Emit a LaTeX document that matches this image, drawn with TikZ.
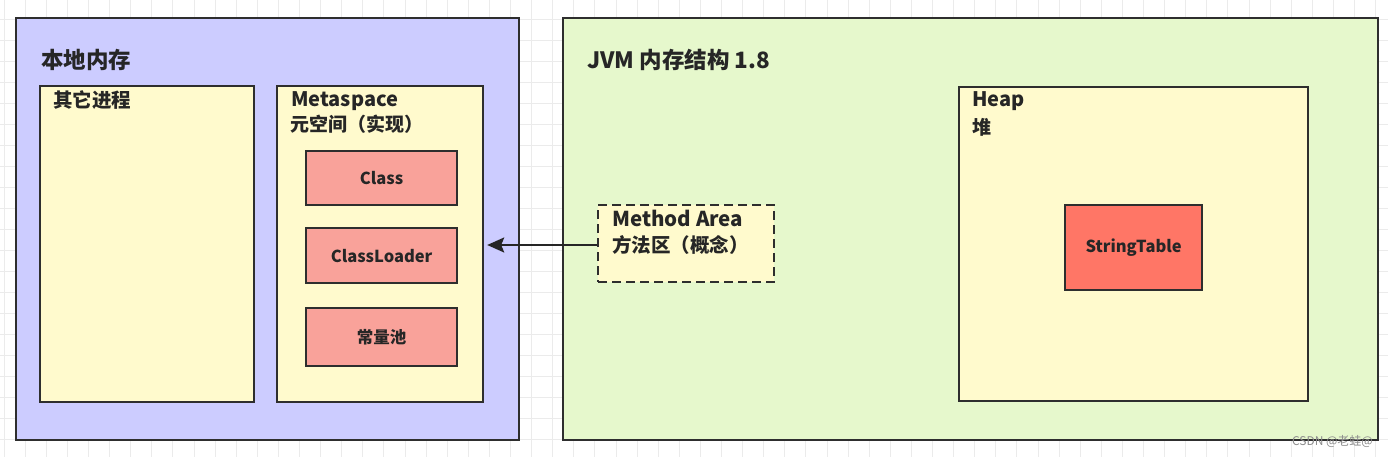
\documentclass[tikz,border=0pt]{standalone}
\usepackage{fontspec}
\setmainfont{Noto Sans CJK SC}
\usetikzlibrary{arrows.meta}
\definecolor{lav}{HTML}{CCCCFF}
\definecolor{grn}{HTML}{E6F8CC}
\definecolor{ylw}{HTML}{FFFACD}
\definecolor{salmon}{HTML}{F9A29A}
\definecolor{red2}{HTML}{FF7666}
\definecolor{edge}{HTML}{2E2E2E}
\definecolor{gridc}{HTML}{EBEBEB}
\tikzset{
  box/.style={draw=edge, line width=2.2pt, inner sep=0pt, anchor=north west},
  lbl/.style={inner sep=0pt, font=\bfseries, text=black!85},
  small/.style={lbl, font=\fontsize{16.5}{16.5}\selectfont\bfseries},
  gridline/.style={draw=gridc, line width=0.8pt},
  conn/.style={draw=black!85, line width=2pt, -{Stealth[length=17pt,width=15pt,inset=3pt]}},
}
\begin{document}
\begin{tikzpicture}[x=1pt,y=-1pt]
\useasboundingbox (0,0) rectangle (1388,457);
\fill[white] (0,0) rectangle (1388,457);
\foreach \k in {0,...,66} {\draw[gridline] (4+21.1*\k,0) -- (4+21.1*\k,457);}
\foreach \k in {0,...,21} {\draw[gridline] (0,19+21*\k) -- (1388,19+21*\k);}
% outer boxes
\node[box, fill=lav, minimum width=503pt, minimum height=422pt] (local) at (15,17) {};
\node[box, fill=grn, minimum width=815pt, minimum height=422pt] (jvm) at (562,17) {};
% left inner
\node[box, fill=ylw, minimum width=214pt, minimum height=316pt] (other) at (39,85) {};
\node[box, fill=ylw, minimum width=206pt, minimum height=316pt] (meta) at (276,85) {};
\node[box, fill=salmon, minimum width=151pt, minimum height=54pt] (cls) at (305,150) {};
\node[box, fill=salmon, minimum width=151pt, minimum height=55pt] (cl) at (305,227) {};
\node[box, fill=salmon, minimum width=151pt, minimum height=58pt] (pool) at (305,307) {};
% right inner
\node[box, fill=ylw, dashed, dash pattern=on 9pt off 5pt, minimum width=176pt, minimum height=77pt] (ma) at (597,204) {};
\node[box, fill=ylw, minimum width=349pt, minimum height=314pt] (heap) at (958,86) {};
\node[box, fill=red2, minimum width=137pt, minimum height=85pt] (st) at (1064,204) {};
% labels
\node[lbl, anchor=west, font=\fontsize{22.5}{22.5}\selectfont\bfseries] (tlocal) at (41,60) {本地内存};
\node[lbl, anchor=west, font=\fontsize{19.5}{19.5}\selectfont\bfseries] (tother) at (53,100) {其它进程};
\node[lbl, anchor=base west, font=\fontsize{20}{20}\selectfont\bfseries] (tmeta) at (291,107) {Metaspace};
\node[lbl, anchor=west, font=\fontsize{19}{19}\selectfont\bfseries] (tmeta2) at (290,124) {元空间（实现）};
\node[small] (tcls) at (cls.center) {Class};
\node[small] (tcl) at (cl.center) {ClassLoader};
\node[small] (tpool) at (pool.center) {常量池};
\node[lbl, anchor=west, font=\fontsize{22.5}{22.5}\selectfont\bfseries] (tjvm) at (587,60) {JVM 内存结构 1.8};
\node[lbl, anchor=base west, font=\fontsize{20.5}{20.5}\selectfont\bfseries] (tma) at (612,226) {Method Area};
\node[lbl, anchor=west, font=\fontsize{19.5}{19.5}\selectfont\bfseries] (tma2) at (612,245) {方法区（概念）};
\node[lbl, anchor=base west, font=\fontsize{20}{20}\selectfont\bfseries] (theap) at (972,107) {Heap};
\node[lbl, anchor=west, font=\fontsize{19}{19}\selectfont\bfseries] (theap2) at (972,127) {堆};
\node[small] (tst) at (st.center) {StringTable};
% connector
\draw[conn] (ma.west |- tma2.center) -- ([xshift=3pt]meta.east |- tma2.center);
% watermark
\node[inner sep=0pt, text=black!45, font=\fontsize{12}{12}\selectfont, anchor=east] (wm) at (1373,441) {CSDN @老蛙@};
\end{tikzpicture}
\end{document}
